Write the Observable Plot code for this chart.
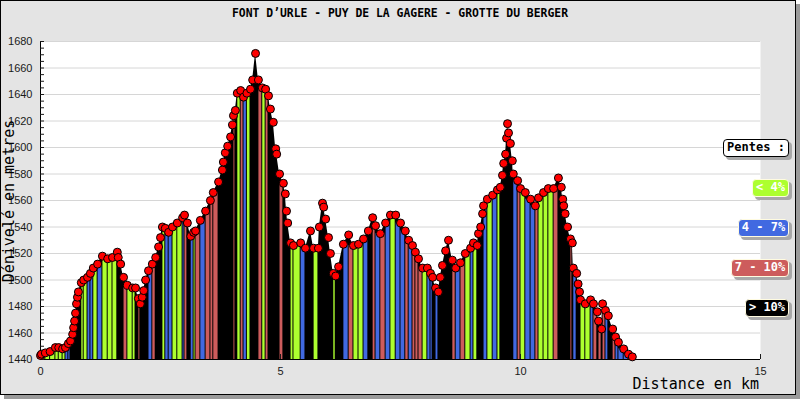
<!DOCTYPE html>
<html>
<head>
<meta charset="utf-8">
<script src="https://cdn.jsdelivr.net/npm/d3@7"></script>
<script src="https://cdn.jsdelivr.net/npm/@observablehq/plot@0.6"></script>
<style>
  html, body { margin: 0; padding: 0; background: #ffffff; }
  #wrap { position: relative; width: 800px; height: 400px; overflow: hidden; }
  #frame { position: absolute; left: 0; top: 0; width: 796px; height: 395px; box-sizing: border-box;
           border: 1px solid #000; background: #e4e4e4; box-shadow: 4px 4px 0 #9a9a9a; }
  #chart { position: absolute; left: 0; top: 0; }
  .title { position: absolute; left: 0; width: 800px; top: 6px; text-align: center;
           font: bold 11.4px "DejaVu Sans Mono", monospace; color: #000; }
  .xlab { position: absolute; right: 41px; top: 375px; font: 15px "DejaVu Sans Mono", monospace; color: #000; }
  .ylab { position: absolute; left: 9px; top: 201px; transform: translate(-50%, -50%) rotate(-90deg);
          white-space: nowrap; font: 15px "DejaVu Sans Mono", monospace; color: #000; }
  .lg { position: absolute; height: 18px; line-height: 17px; box-sizing: border-box; border-radius: 4px;
        font: bold 12px "DejaVu Sans Mono", monospace; text-align: center; color: #fff;
        border: 1px solid #fffbe0; box-shadow: 3px 3px 0 #a8a8a8; white-space: pre; }
</style>
</head>
<body>
<div id="wrap">
  <div id="frame"></div>
  <div id="chart"></div>
  <div class="title">FONT D’URLE - PUY DE LA GAGERE - GROTTE DU BERGER</div>
  <div class="ylab">Dénivelé en metres</div>
  <div class="xlab">Distance en km</div>
  <div id="legend"></div>
</div>
<script>
const km = [0.00,0.02,0.10,0.20,0.31,0.38,0.46,0.52,0.58,0.625,0.67,0.69,0.71,0.73,0.75,0.77,0.79,0.85,0.90,0.98,
  1.04,1.10,1.19,1.29,1.40,1.50,1.60,1.62,1.67,1.73,1.81,1.92,1.98,2.04,2.08,2.12,2.15,2.19,2.25,2.33,
  2.40,2.46,2.50,2.54,2.60,2.67,2.75,2.85,2.96,3.00,3.06,3.13,3.19,3.23,3.33,3.44,3.54,3.60,3.71,3.79,
  3.81,3.85,3.90,3.96,4.00,4.02,4.06,4.10,4.17,4.23,4.30,4.375,4.42,4.48,4.54,4.62,4.69,4.75,4.79,4.85,
  4.90,4.92,4.98,5.06,5.10,5.125,5.15,5.21,5.27,5.42,5.52,5.625,5.69,5.79,5.81,5.875,5.90,5.94,6.00,6.04,
  6.10,6.15,6.21,6.31,6.42,6.52,6.625,6.73,6.83,6.92,6.98,7.08,7.19,7.29,7.40,7.50,7.60,7.67,7.75,7.81,
  7.875,7.96,8.06,8.125,8.17,8.23,8.29,8.33,8.375,8.44,8.50,8.58,8.65,8.75,8.85,8.96,9.02,9.10,9.125,9.17,
  9.21,9.23,9.31,9.42,9.52,9.58,9.625,9.65,9.69,9.71,9.73,9.75,9.79,9.83,9.85,9.94,10.00,10.10,10.21,10.31,
  10.375,10.48,10.58,10.69,10.79,10.85,10.88,10.90,10.93,10.98,11.04,11.08,11.10,11.17,11.20,11.23,11.25,11.35,11.46,11.52,
  11.60,11.625,11.69,11.71,11.77,11.83,11.92,11.98,12.04,12.15,12.25,12.33];
const elev = [1443,1444,1445,1446,1449,1449,1448,1449,1452,1454,1459,1464,1469,1475,1482,1487,1491,1498,1500,1502,
  1505,1509,1512,1518,1516,1517,1521,1517,1512,1502,1496,1494,1494,1486,1482,1487,1492,1500,1507,1512,
  1517,1525,1532,1540,1539,1536,1540,1543,1547,1549,1543,1533,1536,1537,1545,1552,1560,1566,1574,1583,
  1589,1596,1601,1608,1617,1624,1628,1641,1643,1638,1641,1644,1651,1671,1651,1645,1644,1639,1629,1619,
  1599,1595,1580,1573,1565,1552,1543,1528,1526,1528,1524,1537,1524,1524,1540,1558,1555,1546,1532,1520,
  1505,1503,1510,1527,1534,1526,1527,1531,1537,1547,1541,1535,1543,1549,1549,1543,1537,1530,1526,1521,
  1516,1509,1509,1505,1502,1494,1491,1502,1511,1522,1530,1515,1509,1513,1520,1524,1528,1526,1535,1540,
  1550,1556,1561,1564,1568,1570,1579,1588,1595,1607,1618,1611,1603,1590,1580,1575,1569,1566,1561,1556,
  1562,1566,1569,1569,1577,1570,1561,1556,1550,1540,1531,1528,1509,1505,1497,1491,1485,1482,1485,1482,
  1476,1469,1463,1482,1477,1473,1463,1457,1453,1448,1444,1442];

const slopeClasses = ["< 4%", "4 - 7%", "7 - 10%", "> 10%"];
const slopeColors = ["#adff2f", "#4169e1", "#cd5c5c", "#000000"];
const xTicks = [0, 5, 10, 15];
const yMin = 1440, yMax = 1680;
const legendTitle = "Pentes :";

const points = km.map((k, i) => ({km: k, elev: elev[i]}));
const segments = [];
for (let i = 0; i < km.length - 1; i++) {
  const run = (km[i + 1] - km[i]) * 1000;
  const pct = Math.abs(elev[i + 1] - elev[i]) / run * 100;
  const cls = pct < 4 ? slopeClasses[0] : pct < 7 ? slopeClasses[1] : pct < 10 ? slopeClasses[2] : slopeClasses[3];
  segments.push({x1: km[i], x2: km[i + 1], top: Math.min(elev[i], elev[i + 1]), base: yMin, cls});
}

const chart = Plot.plot({
  width: 800, height: 400,
  marginLeft: 40, marginRight: 40, marginTop: 41, marginBottom: 41,
  style: {background: "transparent", fontFamily: "'Liberation Sans', Arial, sans-serif", fontSize: "11px", color: "#1a1a1a"},
  x: {domain: [0, 15]},
  y: {domain: [yMin, yMax]},
  color: {domain: slopeClasses, range: slopeColors},
  marks: [
    Plot.frame({fill: "white", stroke: "none"}),
    Plot.gridY(d3.range(yMin + 20, yMax + 1, 20), {stroke: "#d6d6d6", strokeOpacity: 1}),
    Plot.areaY(points, {x: "km", y1: () => yMin, y2: "elev", fill: "black"}),
    Plot.rect(segments.filter(d => d.cls !== slopeClasses[3]),
      {x1: "x1", x2: "x2", y1: "base", y2: "top", fill: "cls", insetLeft: 0.5, insetRight: 0.5}),
    Plot.ruleX([0], {stroke: "black"}),
    Plot.ruleY([yMin], {stroke: "black"}),
    Plot.axisY(d3.range(yMin, yMax + 1, 20), {tickSize: 0, tickPadding: 8, label: null, tickFormat: d => String(d)}),
    Plot.axisY(d3.range(yMin, yMax + 1, 5), {tickSize: -4, text: null, label: null}),
    Plot.axisX(xTicks, {tickSize: 0, tickPadding: 8, label: null, tickFormat: d => String(d)}),
    Plot.axisX(xTicks, {tickSize: -5, text: null, label: null}),
    Plot.dot(points, {x: "km", y: "elev", r: 4, fill: "#ff0000", stroke: "black", strokeWidth: 1})
  ]
});
document.getElementById("chart").appendChild(chart);

// Legend boxes
const legendBoxes = [
  {text: legendTitle, left: 723, top: 139, width: 66, bg: "#ffffff", fg: "#000", border: "#000"},
  {text: slopeClasses[0], left: 752, top: 179, width: 37, bg: slopeColors[0]},
  {text: slopeClasses[1], left: 738, top: 219, width: 51, bg: slopeColors[1]},
  {text: slopeClasses[2], left: 731, top: 259, width: 58, bg: slopeColors[2]},
  {text: slopeClasses[3], left: 745, top: 299, width: 44, bg: slopeColors[3]}
];
const lg = document.getElementById("legend");
for (const b of legendBoxes) {
  const el = document.createElement("div");
  el.className = "lg";
  el.textContent = b.text;
  el.style.left = b.left + "px";
  el.style.top = b.top + "px";
  el.style.width = b.width + "px";
  el.style.background = b.bg;
  if (b.fg) el.style.color = b.fg;
  if (b.border) el.style.borderColor = b.border;
  lg.appendChild(el);
}
</script>
</body>
</html>
